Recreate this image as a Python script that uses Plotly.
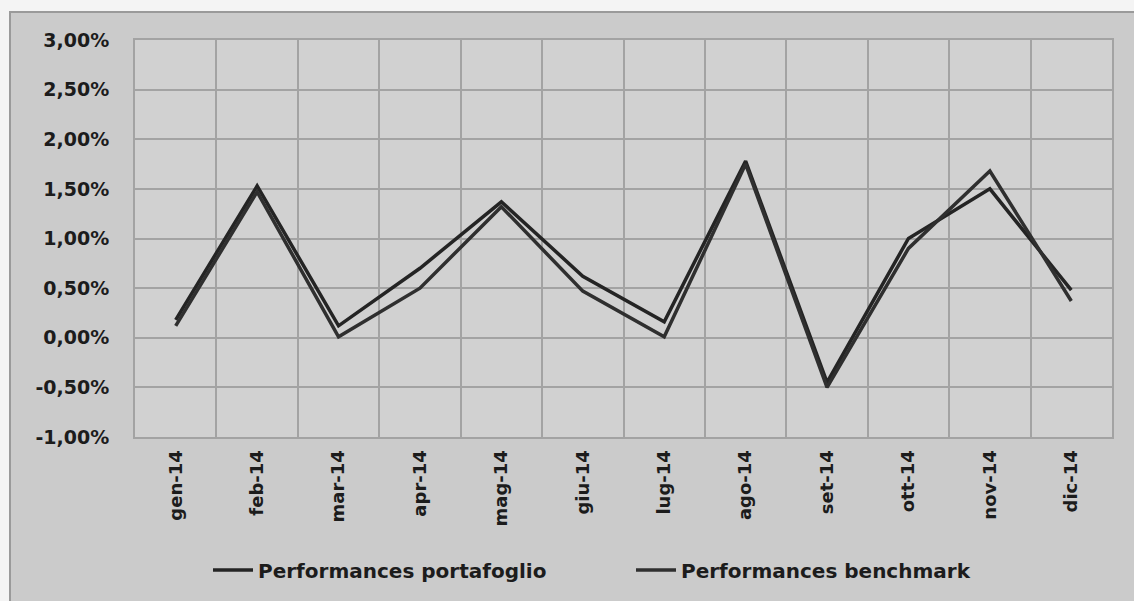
import plotly.graph_objects as go

# Monthly performance, 2014 (values in percent)
months = ["gen-14", "feb-14", "mar-14", "apr-14", "mag-14", "giu-14",
          "lug-14", "ago-14", "set-14", "ott-14", "nov-14", "dic-14"]
portafoglio = [0.18, 1.53, 0.12, 0.70, 1.37, 0.62, 0.16, 1.78, -0.45, 1.00, 1.50, 0.48]
benchmark = [0.12, 1.47, 0.01, 0.50, 1.32, 0.47, 0.01, 1.75, -0.50, 0.90, 1.68, 0.37]
series_names = ["Performances portafoglio", "Performances benchmark"]
y_ticks = [-1.0, -0.5, 0.0, 0.5, 1.0, 1.5, 2.0, 2.5, 3.0]
y_tick_labels = ["-1,00%", "-0,50%", "0,00%", "0,50%", "1,00%",
                 "1,50%", "2,00%", "2,50%", "3,00%"]

W, H = 1134, 601
L, R, T, B = 135, 22, 40, 164
pw, ph = W - L - R, H - T - B

bg_outer = "#cbcbcb"
bg_plot = "#d1d1d1"
grid = "#a3a3a3"
text_col = "#1c1c1c"
font_family = "DejaVu Sans"

fig = go.Figure()
fig.add_trace(go.Scatter(
    x=months, y=[v / 100 for v in portafoglio], name=series_names[0],
    mode="lines", line=dict(color="#242424", width=3.5),
))
fig.add_trace(go.Scatter(
    x=months, y=[v / 100 for v in benchmark], name=series_names[1],
    mode="lines", line=dict(color="#2f2f2f", width=3.5),
))

# chart area frame behind everything (white strip at top/left like a scan edge)
fig.add_shape(
    type="rect", xref="paper", yref="paper", layer="below",
    x0=(10 - L) / pw, x1=(W + 20 - L) / pw,
    y0=-(H + 20 - T - ph) / ph, y1=(T + ph - 12) / ph,
    fillcolor=bg_outer, line=dict(color="#9a9a9a", width=2),
)
fig.add_shape(
    type="rect", xref="paper", yref="paper", layer="below",
    x0=0, x1=1, y0=0, y1=1,
    fillcolor=bg_plot, line=dict(width=0),
)

fig.update_layout(
    width=W, height=H,
    margin=dict(l=L, r=R, t=T, b=B, autoexpand=False),
    paper_bgcolor="#f4f4f4",
    plot_bgcolor="rgba(0,0,0,0)",
    font=dict(family=font_family, color=text_col),
    showlegend=True,
    legend=dict(
        orientation="h", x=(208 - L) / pw, xanchor="left", y=-0.335, yanchor="middle",
        bgcolor="rgba(0,0,0,0)",
        font=dict(size=20, family=font_family, color=text_col, weight="bold"),
        itemwidth=40, entrywidth=368, entrywidthmode="pixels",
    ),
    xaxis=dict(
        type="category", range=[-0.5, len(months) - 0.5], tickson="boundaries",
        showgrid=True, gridcolor=grid, gridwidth=2, ticks="", tickangle=-90,
        tickfont=dict(size=18, family=font_family, color=text_col, weight="bold"),
        ticklabelstandoff=4, showline=True, linecolor=grid, linewidth=2, mirror=True,
        automargin=False, fixedrange=True,
    ),
    yaxis=dict(
        range=[-0.01, 0.03], tickmode="array",
        tickvals=[v / 100 for v in y_ticks], ticktext=y_tick_labels,
        showgrid=True, gridcolor=grid, gridwidth=2, zeroline=False, ticks="",
        tickfont=dict(size=19, family=font_family, color=text_col, weight="bold"),
        ticklabelstandoff=20, showline=True, linecolor=grid, linewidth=2, mirror=True,
        automargin=False, fixedrange=True,
    ),
)

fig.write_html("out.html")
